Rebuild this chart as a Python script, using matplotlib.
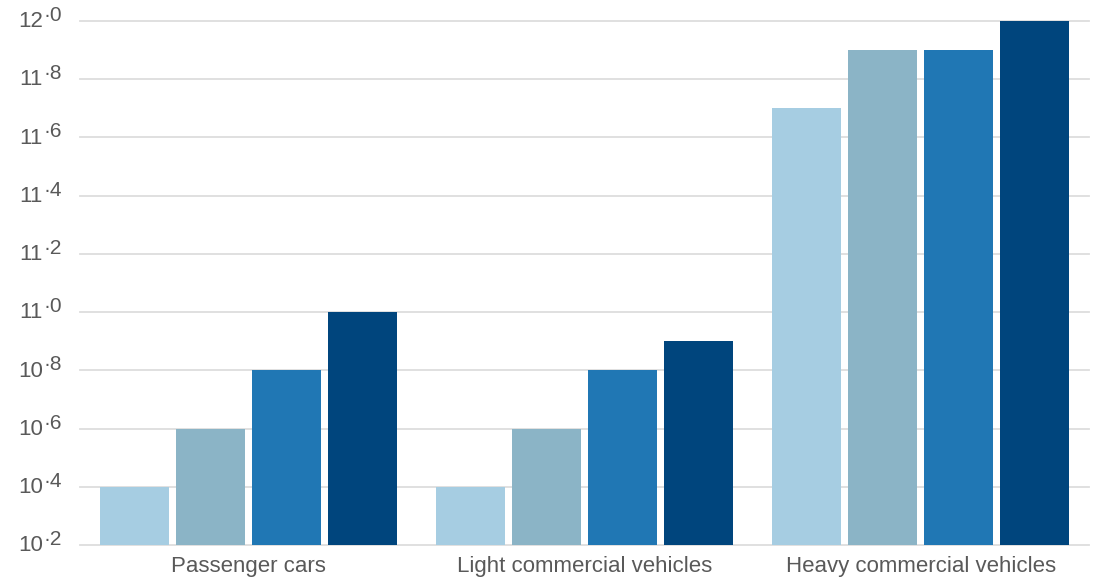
import matplotlib
matplotlib.use("Agg")
import matplotlib.pyplot as plt
import numpy as np

plt.rcParams['font.family'] = ['Liberation Sans', 'DejaVu Sans']

categories = ["Passenger cars", "Light commercial vehicles", "Heavy commercial vehicles"]
series_1 = [10.4, 10.4, 11.7]
series_2 = [10.6, 10.6, 11.9]
series_3 = [10.8, 10.8, 11.9]
series_4 = [11.0, 10.9, 12.0]
y_ticks = [10.2, 10.4, 10.6, 10.8, 11.0, 11.2, 11.4, 11.6, 11.8, 12.0]

colors = ["#A6CDE2", "#8BB4C6", "#2077B4", "#00457D"]
text_color = "#595959"
grid_color = "#DDDDDD"

W, H = 1096, 580
fig = plt.figure(figsize=(W / 100, H / 100), dpi=100)
ax = fig.add_axes([80 / W, (H - 545) / H, (1089 - 80) / W, (545 - 21) / H])

ymin, ymax = y_ticks[0], y_ticks[-1]
x = np.arange(len(categories))
step = 0.226
width = 0.205
for i, (vals, c) in enumerate(zip([series_1, series_2, series_3, series_4], colors)):
    ax.bar(x + (i - 1.5) * step, np.array(vals) - ymin, bottom=ymin, width=width,
           color=c, zorder=3)

ax.set_xlim(-0.5, len(categories) - 0.5)
ax.set_ylim(ymin, ymax)
for t in y_ticks:
    ax.axhline(t, color=grid_color, lw=1.3, zorder=1, clip_on=False)

for s in ax.spines.values():
    s.set_visible(False)
ax.set_yticks([])
ax.set_xticks(x)
ax.set_xticklabels(categories, fontsize=16, color=text_color)
ax.tick_params(axis='x', length=0, pad=8)

for t in y_ticks:
    whole = f"{t:.1f}".split(".")
    ax.annotate(whole[0], xy=(0, t), xycoords=('axes fraction', 'data'),
                xytext=(-37 * 0.72, -0.5), textcoords='offset points',
                ha='right', va='center', fontsize=16, color=text_color)
    ax.annotate("\u00b7" + whole[1], xy=(0, t), xycoords=('axes fraction', 'data'),
                xytext=(-37 * 0.72, 0.0), textcoords='offset points',
                ha='left', va='baseline', fontsize=15, color=text_color)

fig.savefig("out.png", dpi=100, facecolor="white")
